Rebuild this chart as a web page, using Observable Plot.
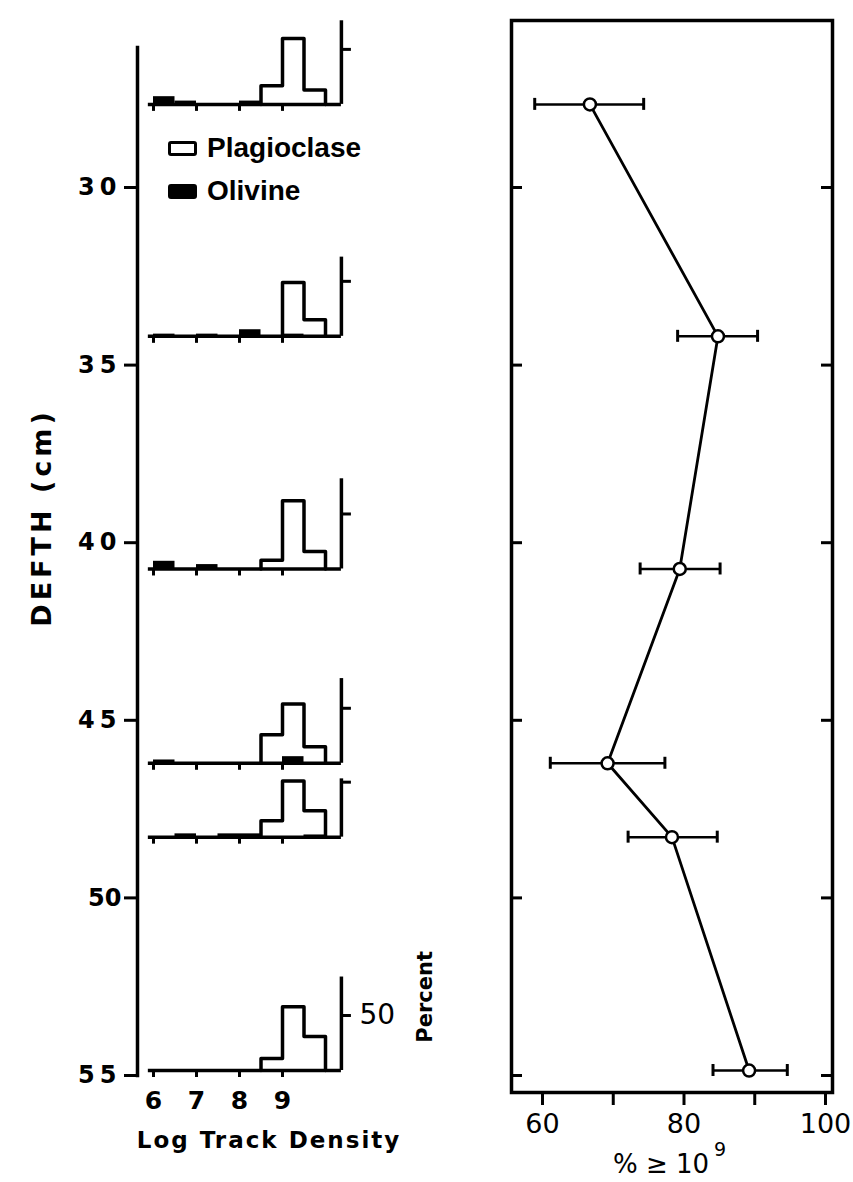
<!DOCTYPE html>
<html><head><meta charset="utf-8">
<script src="https://cdn.jsdelivr.net/npm/d3@7"></script>
<script src="https://cdn.jsdelivr.net/npm/@observablehq/plot@0.6"></script>
<style>
body{margin:0;background:#fff;}
#wrap{position:relative;width:853px;height:1182px;overflow:hidden;background:#fff;}
#left,#right{position:absolute;top:0;}
#left{left:0;} #right{left:480px;}
.legend{position:absolute;left:168px;font:bold 28px "Liberation Sans";line-height:28px;display:flex;align-items:center;color:#000;}
.sw{display:inline-block;box-sizing:border-box;width:29px;height:15px;border:3.5px solid #000;border-radius:3px;margin-right:10px;}
</style></head><body>
<div id="wrap"><div id="left"></div><div id="right"></div>
<div class="legend" style="top:134px"><span class="sw"></span>Plagioclase</div>
<div class="legend" style="top:177px"><span class="sw" style="background:#000"></span>Olivine</div>
</div>
<script>
// ---- data ----
const depthTicks = [30, 35, 40, 45, 50, 55];
const sampleDepth = [27.66, 34.19, 40.74, 46.21, 48.29, 54.86];   // cm
const pctAbove = [66.7, 84.8, 79.4, 69.2, 78.3, 89.2];            // % >= 10^9
const errLow   = [58.9, 79.1, 73.8, 61.1, 72.1, 84.1];
const errHigh  = [74.3, 90.4, 85.1, 77.3, 84.7, 94.6];
const pctTicks = [60, 70, 80, 90, 100];
const pctLabels = [60, 80, 100];
const densityTicks = [6, 7, 8, 9];
const densityLabels = ["6", "7", "8", "9"];
const binWidth = 0.5;
// plagioclase histograms (sample index, bin start, percent)
const plagSample = [0, 0, 0, 1, 1, 2, 2, 2, 3, 3, 3, 4, 4, 4, 5, 5, 5];
const plagBinLo  = [8.5, 9, 9.5, 9, 9.5, 8.5, 9, 9.5, 8.5, 9, 9.5, 8.5, 9, 9.5, 8.5, 9, 9.5];
const plagPct    = [17, 60, 13, 49, 15, 8, 62, 16, 26, 54, 15, 15, 51, 24, 11, 58, 31];
// olivine histograms
const olivSample = [0, 0, 0, 1, 1, 1, 1, 2, 2, 3, 3, 4, 4, 4, 4];
const olivBinLo  = [6, 6.5, 8, 6, 7, 8, 9, 6, 7, 6, 9, 6.5, 7.5, 8, 9.5];
const olivPct    = [7, 3, 3, 2, 2, 6, 2, 7, 4, 3, 6, 3, 3, 3, 2];
// height of each histogram's percent axis, and its labelled tick
const percentAxisTop = [76, 72, 82, 77, 53, 85];
const percentTick = 50;
const histDensityExtent = [5.88, 10.37];

// ---- geometry ----
const H = 1182;
const yRange = [187, 1075];
const pxPerCm = (yRange[1] - yRange[0]) / (depthTicks[5] - depthTicks[0]);
const pxPerPercent = 1.1;
const cmPerPercent = pxPerPercent / pxPerCm;
const xRangeL = [153, 282];
const pxPerDensity = (xRangeL[1] - xRangeL[0]) / 3;

const samples = sampleDepth.map((d, i) => ({i, depth: d, top: percentAxisTop[i], pct: pctAbove[i], lo: errLow[i], hi: errHigh[i]}));
const plag = plagSample.map((s, j) => ({i: s, lo: plagBinLo[j], pct: plagPct[j]}));
const oliv = olivSample.map((s, j) => ({i: s, lo: olivBinLo[j], pct: olivPct[j]}));
const stepPts = [];
for (const s of samples) {
  const bins = plag.filter(b => b.i === s.i).sort((a, b) => a.lo - b.lo);
  stepPts.push({i: s.i, x: bins[0].lo, p: 0});
  for (const b of bins) stepPts.push({i: s.i, x: b.lo, p: b.pct});
  stepPts.push({i: s.i, x: bins[bins.length - 1].lo + binWidth, p: 0});
}
const tickPts = samples.flatMap(s => densityTicks.map(t => ({depth: s.depth, t})));
const last = samples[samples.length - 1];

const left = Plot.plot({
  width: 480, height: H,
  marginLeft: 137, marginTop: 47, marginBottom: H - yRange[1], marginRight: 0,
  x: {domain: [6, 9], range: xRangeL, axis: null},
  y: {domain: [30, 55], range: yRange, axis: null},
  style: {fontFamily: "DejaVu Sans", color: "#000", background: "transparent", overflow: "visible"},
  marks: [
    Plot.frame({anchor: "left", strokeWidth: 3.5}),
    Plot.axisY({ticks: depthTicks, tickSize: 13, tickPadding: 3, fontSize: 24, fontWeight: "bold", strokeWidth: 3, label: null, tickFormat: d => String(d)}),
    Plot.text(["DEFTH (cm)"], {frameAnchor: "left", textAnchor: "middle", dx: -95, dy: -44, rotate: -90, fontSize: 27, fontWeight: "bold"}),
    // baselines
    Plot.ruleY(samples, {y: "depth", x1: histDensityExtent[0], x2: histDensityExtent[1], strokeWidth: 3.5}),
    Plot.ruleX(tickPts, {x: "t", y1: "depth", y2: d => d.depth + 7 / pxPerCm, strokeWidth: 3}),
    // olivine
    Plot.rect(oliv, {x1: "lo", x2: d => d.lo + binWidth, y1: d => sampleDepth[d.i], y2: d => sampleDepth[d.i] - d.pct * cmPerPercent, fill: "#000"}),
    // plagioclase outline
    Plot.line(stepPts, {x: "x", y: d => sampleDepth[d.i] - d.p * cmPerPercent, z: "i", curve: "step-after", strokeWidth: 3.5}),
    // percent axis for each histogram
    Plot.ruleX(samples, {x: histDensityExtent[1], y1: "depth", y2: d => d.depth - d.top * cmPerPercent, strokeWidth: 3.5}),
    Plot.ruleY(samples, {y: d => d.depth - percentTick * cmPerPercent, x1: histDensityExtent[1], x2: histDensityExtent[1] + 10 / pxPerDensity, strokeWidth: 3}),
    Plot.text([percentTick], {x: histDensityExtent[1], y: last.depth - percentTick * cmPerPercent, dx: 18, textAnchor: "start", text: d => String(d), fontSize: 28}),
    Plot.text(["Percent"], {x: histDensityExtent[1], y: last.depth - 67 * cmPerPercent, dx: 84, rotate: -90, fontSize: 21, fontWeight: "bold"}),
    // density tick labels under bottom histogram
    Plot.text(densityTicks, {x: d => d, y: last.depth, dy: 30, text: (d, k) => densityLabels[k], fontSize: 25, fontWeight: "bold"}),
    Plot.text(["Log Track Density"], {frameAnchor: "bottom", dx: -40, dy: 72, fontSize: 23, fontWeight: "bold"})
  ]
});
document.getElementById("left").appendChild(left);
d3.select(left).selectAll("text").filter(function() { return this.textContent === "DEFTH (cm)"; }).style("letter-spacing", "4px");
d3.select(left).selectAll("text").filter(function() { return this.textContent === "Log Track Density"; }).style("letter-spacing", "2px");
d3.select(left).selectAll("text").filter(function() { return /^\d\d$/.test(this.textContent) && this.textContent !== "50"; }).style("letter-spacing", "5px");

const right = Plot.plot({
  width: 373, height: H,
  marginLeft: 31, marginRight: 21, marginTop: 20, marginBottom: 90,
  x: {domain: [60, 100], range: [62, 345], axis: null},
  y: {domain: [30, 55], range: yRange, axis: null},
  style: {fontFamily: "DejaVu Sans", color: "#000", background: "transparent", overflow: "visible"},
  marks: [
    Plot.frame({strokeWidth: 3.5}),
    Plot.tickY(depthTicks, {y: d => d, insetRight: 321 - 11, strokeWidth: 3}),
    Plot.tickY(depthTicks, {y: d => d, insetLeft: 321 - 11, strokeWidth: 3}),
    Plot.axisX({ticks: pctTicks, tickSize: 13, tickPadding: 8, fontSize: 27, strokeWidth: 3, label: null, tickFormat: d => pctLabels.includes(d) ? String(d) : ""}),
    Plot.ruleY(samples, {y: "depth", x1: "lo", x2: "hi", strokeWidth: 2.5}),
    Plot.ruleX(samples, {x: "lo", y1: d => d.depth - 6 / pxPerCm, y2: d => d.depth + 6 / pxPerCm, strokeWidth: 3}),
    Plot.ruleX(samples, {x: "hi", y1: d => d.depth - 6 / pxPerCm, y2: d => d.depth + 6 / pxPerCm, strokeWidth: 3}),
    Plot.line(samples, {x: "pct", y: "depth", strokeWidth: 2.8}),
    Plot.dot(samples, {x: "pct", y: "depth", r: 6, fill: "#fff", stroke: "#000", strokeWidth: 2.5}),
    Plot.text(["% ≥ 10"], {frameAnchor: "bottom", dx: -11, dy: 80, fontSize: 26}),
    Plot.text(["9"], {frameAnchor: "bottom", dx: 48, dy: 63, fontSize: 19})
  ]
});
document.getElementById("right").appendChild(right);
</script>
</body></html>
